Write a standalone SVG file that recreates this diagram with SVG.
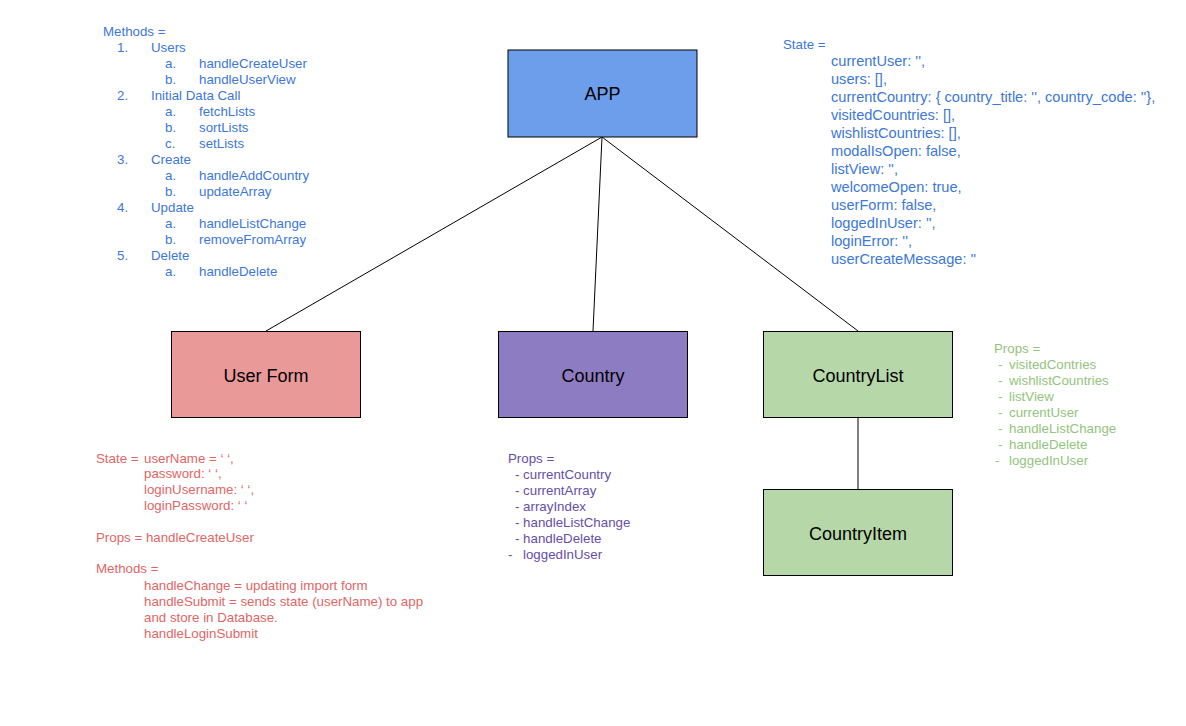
<svg xmlns="http://www.w3.org/2000/svg" width="1186" height="726" viewBox="0 0 1186 726">
<style>
text{font-family:"Liberation Sans",Arial,sans-serif}
.node{stroke:#000;stroke-width:1}
.lbl{font-size:18px;fill:#000;text-anchor:middle}
.conn line{stroke:#000;stroke-width:1}
.blue{fill:#3c78d8;font-size:13.3px}
.blue2{fill:#3c78d8;font-size:14.6px}
.red{fill:#e06666;font-size:13.3px}
.purple{fill:#674ea7;font-size:13.3px}
.green{fill:#93c47d;font-size:13.3px}
</style>
<rect width="1186" height="726" fill="#fff"/>
<g id="connectors" class="conn">
<line x1="602" y1="137" x2="266" y2="331"/>
<line x1="602" y1="137" x2="593" y2="331"/>
<line x1="602" y1="137" x2="858" y2="331"/>
<line x1="858" y1="418" x2="858" y2="489"/>
</g>
<g id="app"><rect class="node" x="508" y="50" width="189" height="87" fill="#6d9eeb"/><text class="lbl" x="602.5" y="100">APP</text></g>
<g id="userform"><rect class="node" x="171.5" y="331.5" width="189" height="86" fill="#ea9999"/><text class="lbl" x="266" y="381.5">User Form</text></g>
<g id="country"><rect class="node" x="498.5" y="331.5" width="189" height="86" fill="#8e7cc3"/><text class="lbl" x="593" y="381.5">Country</text></g>
<g id="countrylist"><rect class="node" x="763.5" y="331.5" width="189" height="86" fill="#b6d7a8"/><text class="lbl" x="858" y="381.5">CountryList</text></g>
<g id="countryitem"><rect class="node" x="763.5" y="489.5" width="189" height="86" fill="#b6d7a8"/><text class="lbl" x="858" y="539.5">CountryItem</text></g>
<g id="app-methods" class="blue">
<text x="103" y="36">Methods =</text>
<text x="117" y="52">1.</text><text x="151" y="52">Users</text>
<text x="165" y="68">a.</text><text x="199" y="68">handleCreateUser</text>
<text x="165" y="84">b.</text><text x="199" y="84">handleUserView</text>
<text x="117" y="100">2.</text><text x="151" y="100">Initial Data Call</text>
<text x="165" y="116">a.</text><text x="199" y="116">fetchLists</text>
<text x="165" y="132">b.</text><text x="199" y="132">sortLists</text>
<text x="165" y="148">c.</text><text x="199" y="148">setLists</text>
<text x="117" y="164">3.</text><text x="151" y="164">Create</text>
<text x="165" y="180">a.</text><text x="199" y="180">handleAddCountry</text>
<text x="165" y="196">b.</text><text x="199" y="196">updateArray</text>
<text x="117" y="212">4.</text><text x="151" y="212">Update</text>
<text x="165" y="228">a.</text><text x="199" y="228">handleListChange</text>
<text x="165" y="244">b.</text><text x="199" y="244">removeFromArray</text>
<text x="117" y="260">5.</text><text x="151" y="260">Delete</text>
<text x="165" y="276">a.</text><text x="199" y="276">handleDelete</text>
</g>
<g id="app-state">
<text class="blue" x="783" y="49">State =</text>
<g class="blue2">
<text x="831" y="66">currentUser: '',</text>
<text x="831" y="84">users: [],</text>
<text x="831" y="102">currentCountry: { country_title: '', country_code: ''},</text>
<text x="831" y="120">visitedCountries: [],</text>
<text x="831" y="138">wishlistCountries: [],</text>
<text x="831" y="156">modalIsOpen: false,</text>
<text x="831" y="174">listView: '',</text>
<text x="831" y="192">welcomeOpen: true,</text>
<text x="831" y="210">userForm: false,</text>
<text x="831" y="228">loggedInUser: '',</text>
<text x="831" y="246">loginError: '',</text>
<text x="831" y="264">userCreateMessage: ''</text>
</g>
</g>
<g id="userform-notes" class="red">
<text x="96" y="463">State =</text><text x="144" y="463">userName = ‘ ‘,</text>
<text x="144" y="478">password: ‘ ‘,</text>
<text x="144" y="494">loginUsername: ‘ ‘,</text>
<text x="144" y="510">loginPassword: ‘ ‘</text>
<text x="96" y="542">Props = handleCreateUser</text>
<text x="96" y="573">Methods =</text>
<text x="144" y="590">handleChange = updating import form</text>
<text x="144" y="606">handleSubmit = sends state (userName) to app</text>
<text x="144" y="622">and store in Database.</text>
<text x="144" y="638">handleLoginSubmit</text>
</g>
<g id="country-props" class="purple">
<text x="508" y="463">Props =</text>
<text x="515" y="479">- currentCountry</text>
<text x="515" y="495">- currentArray</text>
<text x="515" y="511">- arrayIndex</text>
<text x="515" y="527">- handleListChange</text>
<text x="515" y="543">- handleDelete</text>
<text x="508" y="559">-</text><text x="523" y="559">loggedInUser</text>
</g>
<g id="countrylist-props" class="green">
<text x="994" y="353">Props =</text>
<text x="998" y="369">-</text><text x="1009" y="369">visitedContries</text>
<text x="998" y="385">-</text><text x="1009" y="385">wishlistCountries</text>
<text x="998" y="401">-</text><text x="1009" y="401">listView</text>
<text x="998" y="417">-</text><text x="1009" y="417">currentUser</text>
<text x="998" y="433">-</text><text x="1009" y="433">handleListChange</text>
<text x="998" y="449">-</text><text x="1009" y="449">handleDelete</text>
<text x="995" y="465">-</text><text x="1009" y="465">loggedInUser</text>
</g>
</svg>
